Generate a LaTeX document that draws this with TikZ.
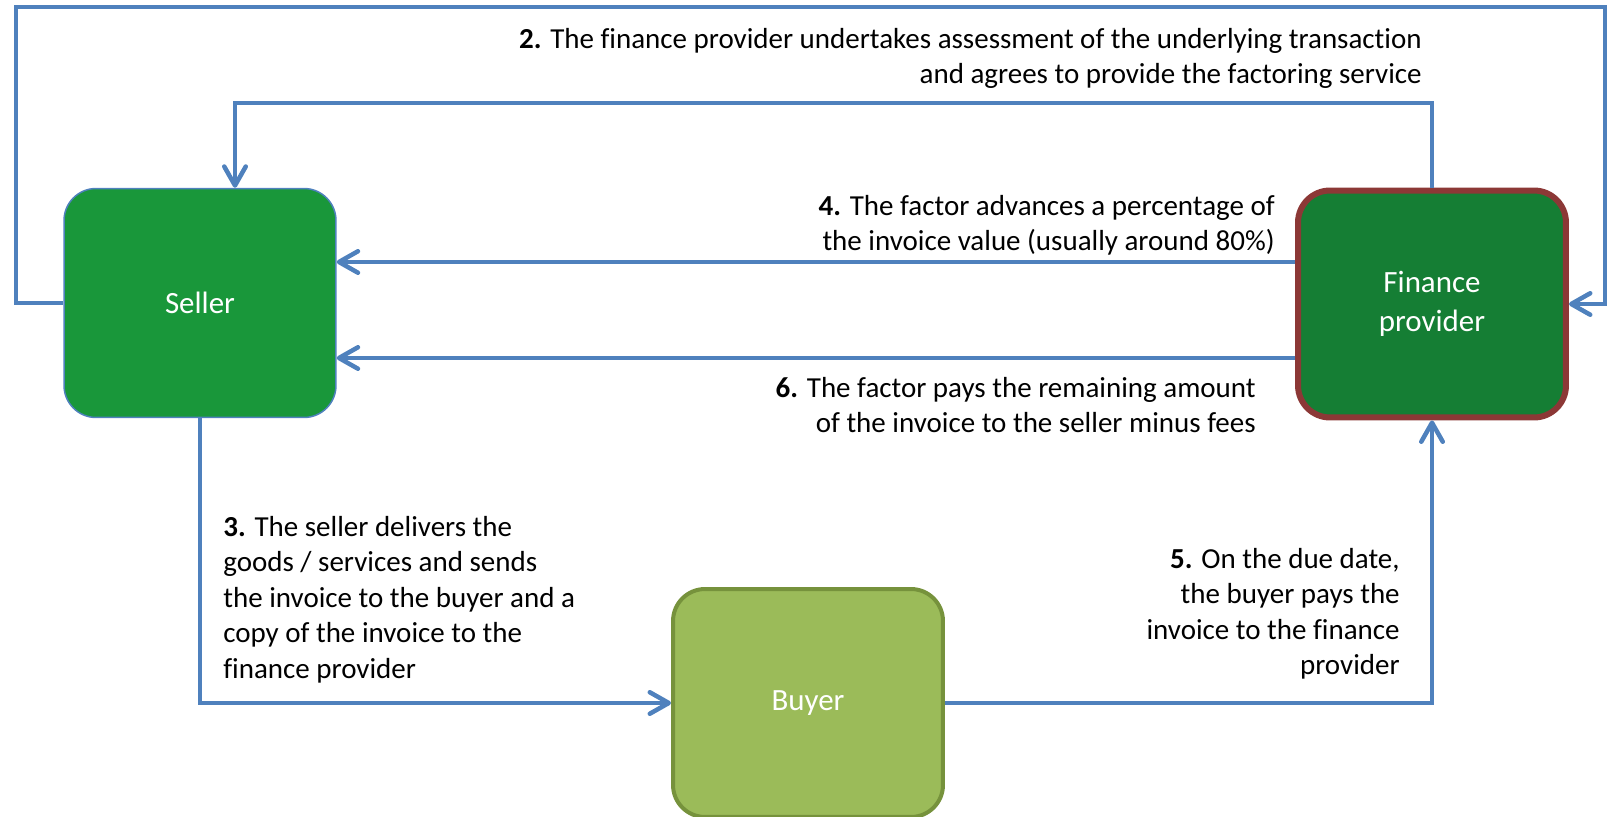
\documentclass[tikz,border=0pt]{standalone}
\usepackage{fontspec}
\setmainfont{Carlito}[Ligatures=NoCommon]
\usepackage{xcolor}
\usetikzlibrary{arrows.meta, calc}

\definecolor{flowblue}{HTML}{4F81BD}
\definecolor{sellergreen}{HTML}{19973A}
\definecolor{financegreen}{HTML}{157E34}
\definecolor{financered}{HTML}{8C3836}
\definecolor{buyergreen}{HTML}{9BBB59}
\definecolor{buyerline}{HTML}{76923C}

\begin{document}
\begin{tikzpicture}[
    x=0.02cm, y=-0.02cm,
    font=\fontsize{16.5pt}{20.2pt}\selectfont,
    party/.style={rectangle, rounded corners=0.64cm, align=center, text=white,
                  font=\fontsize{17.6pt}{22.3pt}\selectfont},
    flow/.style={draw=flowblue, line width=0.09cm,
                 -{Straight Barb[length=3.8mm, width=4.3mm, round]}},
    step text/.style={inner sep=0pt, align=#1},
  ]
    \useasboundingbox (0,0) rectangle (1609,817);

    % the three parties
    \node[party, fill=sellergreen, draw=flowblue, line width=0.03cm,
          minimum width=5.44cm, minimum height=4.58cm] (seller) at (200,303) {Seller};
    \node[party, fill=financegreen, draw=financered, line width=0.12cm,
          minimum width=5.36cm, minimum height=4.54cm] (finance) at (1432,304) {Finance\\provider};
    \node[party, fill=buyergreen, draw=buyerline, line width=0.08cm,
          minimum width=5.4cm, minimum height=4.56cm] (buyer) at (808,703) {Buyer};

    % corner points of the two loops at the top
    \coordinate (outerL) at (16,7);
    \coordinate (outerR) at (1605,7);
    \coordinate (innerL) at (235,103);

    \draw[flow] (seller.west) -- (seller.west -| outerL) -- (outerL) -- (outerR) |- (finance.east);
    \draw[flow] (finance.north) |- (innerL) -- (innerL |- seller.north);

    \coordinate (adv) at ($(finance.west)+(0,-42)$);
    \coordinate (rest) at ($(finance.west)+(0,54)$);
    \draw[flow] (adv) -- (adv -| seller.east);
    \draw[flow] (rest) -- (rest -| seller.east);

    \draw[flow] (seller.south) |- (buyer.west);
    \draw[flow] (buyer.east) -| (finance.south);

    % step labels
    \node[step text=right, anchor=north east] (t2) at (1422,28)
      {\textbf{2.} The finance provider undertakes assessment of the underlying transaction\\
       and agrees to provide the factoring service};
    \node[step text=right, anchor=north east] (t4) at (1275,195)
      {\textbf{4.} The factor advances a percentage of\\
       the invoice value (usually around 80\%)};
    \node[step text=right, anchor=north east] (t6) at (1256,377)
      {\textbf{6.} The factor pays the remaining amount\\
       of the invoice to the seller minus fees};
    \node[step text=left, anchor=north west] (t3) at (223,516)
      {\textbf{3.} The seller delivers the\\
       goods / services and sends\\
       the invoice to the buyer and a\\
       copy of the invoice to the\\
       finance provider};
    \node[step text=right, anchor=north east] (t5) at (1400,548)
      {\textbf{5.} On the due date,\\
       the buyer pays the\\
       invoice to the finance\\
       provider};
  \end{tikzpicture}
\end{document}
